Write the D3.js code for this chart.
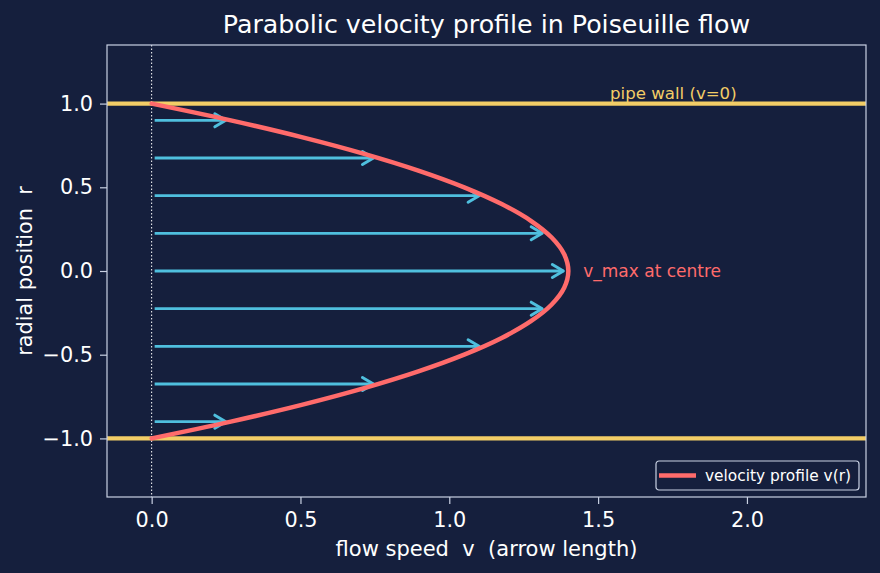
<!DOCTYPE html>
<html lang="en"><head><meta charset="UTF-8">
<title>Poiseuille flow</title>
<script src="https://d3js.org/d3.v7.min.js"></script>
<style>
  body { margin: 0; background: #151f3d; }
  text { font-family: "DejaVu Sans", sans-serif; }
</style>
</head>
<body>
<script>
// radial positions of the arrows and their lengths (flow speed)
var arrowR = [-0.9, -0.675, -0.45, -0.225, 0, 0.225, 0.45, 0.675, 0.9];
var arrowV = [0.266, 0.762, 1.117, 1.329, 1.4, 1.329, 1.117, 0.762, 0.266];

// velocity profile v(r)
var profileR = [-1, -0.9, -0.8, -0.7, -0.6, -0.5, -0.4, -0.3, -0.2, -0.1, 0,
                0.1, 0.2, 0.3, 0.4, 0.5, 0.6, 0.7, 0.8, 0.9, 1];
var profileV = [0, 0.266, 0.504, 0.714, 0.896, 1.05, 1.176, 1.274, 1.344, 1.386, 1.4,
                1.386, 1.344, 1.274, 1.176, 1.05, 0.896, 0.714, 0.504, 0.266, 0];

var wallR = [-1, 1];
var xTicks = [0, 0.5, 1, 1.5, 2];
var yTicks = [-1, -0.5, 0, 0.5, 1];

var w = 880, h = 573;
var margin = {top: 45, right: 14, bottom: 76, left: 107};
var width = w - margin.left - margin.right;
var height = h - margin.top - margin.bottom;

var bg = "#151f3d", fg = "#c9d1e3";

var xScale = d3.scaleLinear().domain([-0.15, 2.4]).range([0, width]);
var yScale = d3.scaleLinear().domain([-1.35, 1.35]).range([height, 0]);

var svg = d3.select("body").append("svg")
  .attr("width", w).attr("height", h)
  .style("background", bg);

var g = svg.append("g")
  .attr("transform", "translate(" + margin.left + "," + margin.top + ")");

svg.append("defs").append("marker")
  .attr("id", "head")
  .attr("viewBox", "-15 -10 18 20")
  .attr("refX", 0).attr("refY", 0)
  .attr("markerWidth", 18).attr("markerHeight", 20)
  .attr("markerUnits", "userSpaceOnUse")
  .attr("orient", "auto")
  .append("path")
  .attr("d", "M-11,-6.5 L0,0 L-11,6.5")
  .attr("fill", "none")
  .attr("stroke", "#4fbfde")
  .attr("stroke-width", 3)
  .attr("stroke-linecap", "round")
  .attr("stroke-linejoin", "round");

g.append("clipPath").attr("id", "plotclip")
  .append("rect").attr("width", width).attr("height", height);
var plot = g.append("g").attr("clip-path", "url(#plotclip)");

// centre line at v = 0
plot.append("line")
  .attr("x1", xScale(0)).attr("x2", xScale(0))
  .attr("y1", 0).attr("y2", height)
  .attr("stroke", "#ffffff").attr("stroke-width", 1)
  .attr("stroke-dasharray", "1.5,2");

// pipe walls
plot.selectAll("line.wall")
  .data(wallR).enter().append("line")
  .attr("class", "wall")
  .attr("x1", 0).attr("x2", width)
  .attr("y1", function(d) { return yScale(d); })
  .attr("y2", function(d) { return yScale(d); })
  .attr("stroke", "#f2cd66").attr("stroke-width", 4.2);

// arrows
plot.selectAll("line.arrow")
  .data(arrowR).enter().append("line")
  .attr("class", "arrow")
  .attr("x1", xScale(0) + 3)
  .attr("x2", function(d, i) { return xScale(arrowV[i]) - 5; })
  .attr("y1", function(d) { return yScale(d); })
  .attr("y2", function(d) { return yScale(d); })
  .attr("stroke", "#4fbfde").attr("stroke-width", 2.8)
  .attr("marker-end", "url(#head)");

// profile curve
var line = d3.line()
  .x(function(d, i) { return xScale(profileV[i]); })
  .y(function(d) { return yScale(d); })
  .curve(d3.curveCatmullRom);

plot.append("path")
  .datum(profileR)
  .attr("d", line)
  .attr("fill", "none")
  .attr("stroke", "#ff6b6b").attr("stroke-width", 4.5)
  .attr("stroke-linecap", "round");

// annotations
g.append("text")
  .attr("x", xScale(1.54)).attr("y", yScale(1) - 5)
  .attr("fill", "#f2cd66").attr("font-size", 16.6)
  .text("pipe wall (v=0)");

g.append("text")
  .attr("x", xScale(1.45)).attr("y", yScale(0))
  .attr("dy", "0.35em")
  .attr("fill", "#ff6b6b").attr("font-size", 17)
  .text("v_max at centre");

// axes
var xAxis = g.append("g")
  .attr("transform", "translate(0," + height + ")")
  .call(d3.axisBottom(xScale).tickValues(xTicks).tickFormat(d3.format(".1f"))
    .tickSizeOuter(0).tickSize(7).tickPadding(8));
var yAxis = g.append("g")
  .call(d3.axisLeft(yScale).tickValues(yTicks)
    .tickFormat(function(d) { return d3.format(".1f")(d).replace("-", "\u2212"); })
    .tickSizeOuter(0).tickSize(7).tickPadding(7));

[xAxis, yAxis].forEach(function(a) {
  a.select(".domain").remove();
  a.selectAll("line").attr("stroke", fg).attr("stroke-width", 1.2);
  a.selectAll("text").attr("fill", "#ffffff").attr("font-size", 20.8)
    .style("font-family", "DejaVu Sans, sans-serif");
});

// frame
g.append("rect")
  .attr("width", width).attr("height", height)
  .attr("fill", "none").attr("stroke", fg).attr("stroke-width", 1.2);

// labels
svg.append("text")
  .attr("x", margin.left + width / 2).attr("y", 33)
  .attr("text-anchor", "middle")
  .attr("fill", "#ffffff").attr("font-size", 25.3)
  .text("Parabolic velocity profile in Poiseuille flow");

svg.append("text")
  .attr("x", margin.left + width / 2).attr("y", 556)
  .attr("text-anchor", "middle")
  .attr("fill", "#ffffff").attr("font-size", 21)
  .style("white-space", "pre")
  .text("flow speed  v  (arrow length)");

svg.append("text")
  .attr("transform", "translate(32," + (margin.top + height / 2) + ") rotate(-90)")
  .attr("text-anchor", "middle")
  .attr("fill", "#ffffff").attr("font-size", 20.8)
  .style("white-space", "pre")
  .text("radial position  r");

// legend
var lg = g.append("g").attr("transform", "translate(" + (width - 210) + "," + (height - 36) + ")");
lg.append("rect")
  .attr("width", 203).attr("height", 29).attr("rx", 3)
  .attr("fill", bg).attr("stroke", fg).attr("stroke-width", 1.2);
lg.append("line")
  .attr("x1", 3).attr("x2", 40).attr("y1", 14.5).attr("y2", 14.5)
  .attr("stroke", "#ff6b6b").attr("stroke-width", 4.5);
lg.append("text")
  .attr("x", 49).attr("y", 14.5).attr("dy", "0.35em")
  .attr("fill", "#ffffff").attr("font-size", 15.4)
  .text("velocity profile v(r)");
</script>
</body>
</html>
